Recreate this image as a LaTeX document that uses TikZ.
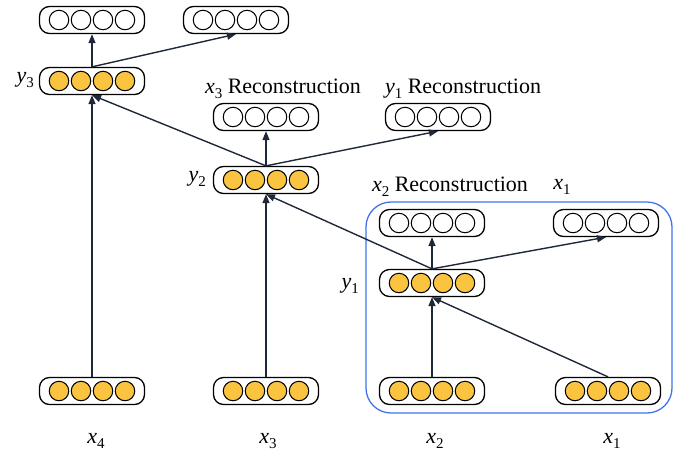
\documentclass[tikz,border=0pt]{standalone}
\usepackage{fontspec}
\setmainfont{Liberation Serif}
\usetikzlibrary{arrows.meta}
\definecolor{unitfill}{HTML}{FBC440}
\definecolor{edgecol}{HTML}{1E2838}
\definecolor{groupblue}{HTML}{3F73EE}
\tikzset{
  layerbox/.style={draw=black, line width=1.3pt, rounded corners=10pt,
    minimum width=105pt, minimum height=27pt, inner sep=0pt},
  unit/.style={circle, draw=black, line width=1pt, minimum size=19.5pt, inner sep=0pt},
  link/.style={draw=edgecol, line width=1.4pt, -{Triangle[length=9pt,width=7pt]}},
  lbl/.style={font=\fontsize{22}{25}\selectfont, inner sep=0pt},
}
% italic variable with a subscript index
\newcommand\vsub[2]{\textit{#1}\raisebox{-0.5ex}{\fontsize{15}{15}\selectfont #2}}
% a layer: rounded box holding four units
\newcommand\layer[4]{%
  \node[layerbox] (#1) at (#2,#3) {};
  \foreach \k in {-33,-11,11,33}
    \node[unit, fill=#4] at ([xshift=\k pt]#1.center) {};
}
\begin{document}
\begin{tikzpicture}[x=1pt, y=-1pt]
\useasboundingbox (0,0) rectangle (678,456);

% group frame around the first autoencoder
\draw[groupblue, line width=1.3pt, rounded corners=25pt] (366,202) rectangle (672,413);

% layers
\layer{tl}{92}{20}{white}
\layer{tr}{236}{20}{white}
\layer{ly3}{92}{81}{unitfill}
\layer{rx3}{266}{117}{white}
\layer{ry1}{438}{117}{white}
\layer{ly2}{266}{180}{unitfill}
\layer{rx2}{432}{223}{white}
\layer{rx1}{606}{223}{white}
\layer{ly1}{432}{283}{unitfill}
\layer{in4}{92}{391}{unitfill}
\layer{in3}{266}{391}{unitfill}
\layer{in2}{432}{391}{unitfill}
\layer{in1}{608}{391}{unitfill}

% labels
\node[lbl, anchor=east] (t3) at (34,80) {\vsub{y}{3}};
\node[lbl, anchor=east] (t2) at (206,179) {\vsub{y}{2}};
\node[lbl, anchor=east] (t1) at (359,286) {\vsub{y}{1}};
\node[lbl] (trx3) at (283,89) {\vsub{x}{3} Reconstruction};
\node[lbl] (try1) at (463,89) {\vsub{y}{1} Reconstruction};
\node[lbl] (trx2) at (450,187) {\vsub{x}{2} Reconstruction};
\node[lbl] (trx1) at (562,187) {\vsub{x}{1}};
\node[lbl] (b4) at (96,441) {\vsub{x}{4}};
\node[lbl] (b3) at (268,441) {\vsub{x}{3}};
\node[lbl] (b2) at (435,441) {\vsub{x}{2}};
\node[lbl] (b1) at (612,441) {\vsub{x}{1}};

% connections
\draw[link] (ly3.north) -- (tl.south);
\draw[link] (ly3.north) -- (tr.south);
\draw[link] (in4.north) -- (ly3.south);
\draw[link] (ly2.north) -- (ly3.south);
\draw[link] (ly2.north) -- (rx3.south);
\draw[link] (ly2.north) -- (ry1.south);
\draw[link] (in3.north) -- (ly2.south);
\draw[link] (ly1.north) -- (ly2.south);
\draw[link] (ly1.north) -- (rx2.south);
\draw[link] (ly1.north) -- (rx1.south);
\draw[link] (in2.north) -- (ly1.south);
\draw[link] (in1.north) -- (ly1.south);
\end{tikzpicture}
\end{document}
